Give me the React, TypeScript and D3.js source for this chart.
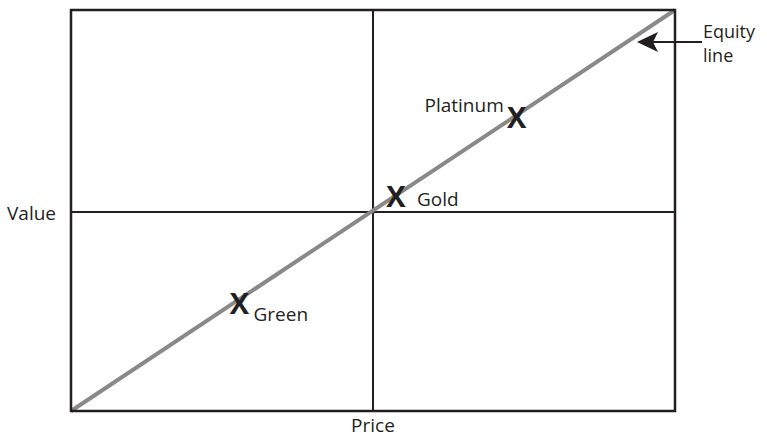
import React from "react";
import * as d3 from "d3";

const W = 767;
const H = 439;

const equityLine = [
  { price: 0, value: 0 },
  { price: 10, value: 10 },
];
const productNames = ["Green", "Gold", "Platinum"];
const productPrice = [2.79, 5.38, 7.38];
const productValue = [2.66, 5.34, 7.31];
const midPrice = 5;
const midValue = 4.96;
const axisLabels = { x: "Price", y: "Value" };
const annotation = ["Equity", "line"];

const FONT = "'Open Sans', 'Noto Sans', sans-serif";
const DARK = "#231f20";

export default function App() {
  const x = d3.scaleLinear().domain([0, 10]).range([71, 675]);
  const y = d3.scaleLinear().domain([0, 10]).range([411, 10]);
  const line = d3
    .line<{ price: number; value: number }>()
    .x((d) => x(d.price))
    .y((d) => y(d.value));

  const midX = x(midPrice);
  const midY = y(midValue);

  // label placements relative to the X marker
  const labelOffsets = [
    { dx: 14, dy: 17, anchor: "start" },
    { dx: 21, dy: 9, anchor: "start" },
    { dx: -13, dy: -6, anchor: "end" },
  ];

  return (
    <svg width={W} height={H} style={{ position: "absolute", left: 0, top: 0, background: "#fff" }}>
      {/* quadrant lines */}
      <line x1={midX} x2={midX} y1={y(10)} y2={y(0)} stroke={DARK} strokeWidth={2} />
      <line x1={x(0)} x2={x(10)} y1={midY} y2={midY} stroke={DARK} strokeWidth={2} />
      {/* equity line */}
      <path d={line(equityLine) || ""} stroke="#898989" strokeWidth={4} fill="none" />
      {/* frame */}
      <rect x={x(0)} y={y(10)} width={x(10) - x(0)} height={y(0) - y(10)} fill="none" stroke={DARK} strokeWidth={2.5} />

      {/* axis labels */}
      <text x={midX} y={432} textAnchor="middle" fontFamily={FONT} fontSize={19} fill={DARK}>
        {axisLabels.x}
      </text>
      <text x={7} y={220} textAnchor="start" fontFamily={FONT} fontSize={19} fill={DARK}>
        {axisLabels.y}
      </text>

      {/* product markers */}
      {productNames.map((name, i) => {
        const cx = x(productPrice[i]);
        const cy = y(productValue[i]);
        const o = labelOffsets[i];
        return (
          <g key={name}>
            <text x={cx} y={cy + 10} textAnchor="middle" fontFamily={FONT} fontSize={29} fontWeight={700} fill={DARK}>
              X
            </text>
            <text x={cx + o.dx} y={cy + o.dy} textAnchor={o.anchor} fontFamily={FONT} fontSize={19} fill={DARK}>
              {name}
            </text>
          </g>
        );
      })}

      {/* annotation arrow */}
      <line x1={702} x2={652} y1={42} y2={42} stroke={DARK} strokeWidth={2} />
      <path d="M637,42 L658,32 L653,42 L658,52 Z" fill={DARK} />
      <text x={703} y={38} fontFamily={FONT} fontSize={18} fill={DARK}>
        {annotation[0]}
      </text>
      <text x={703} y={62} fontFamily={FONT} fontSize={18} fill={DARK}>
        {annotation[1]}
      </text>
    </svg>
  );
}
